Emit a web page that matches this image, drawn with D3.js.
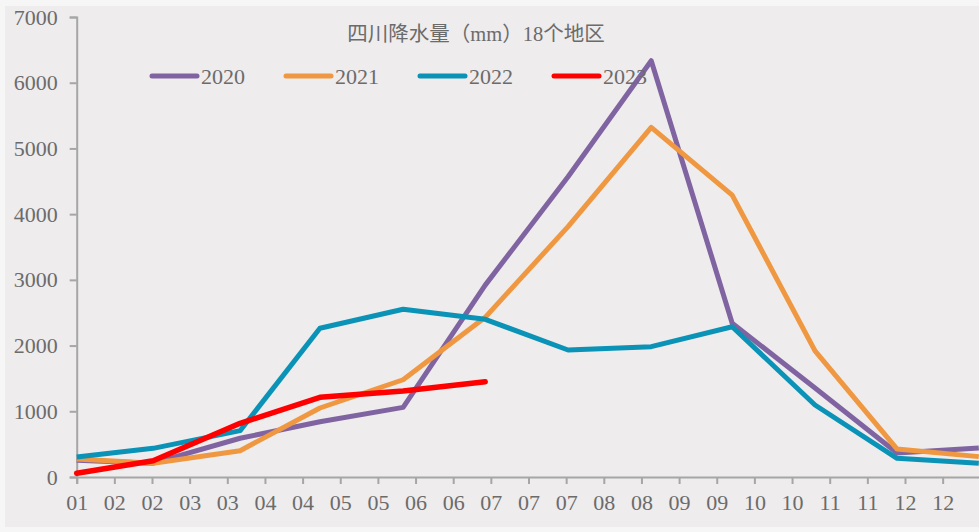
<!DOCTYPE html>
<html>
<head>
<meta charset="utf-8">
<script src="https://cdn.jsdelivr.net/npm/d3@7"></script>
<style>
  body { margin: 0; background: #f6f6f6; }
  svg { display: block; }
  text { font-family: "Liberation Serif", "Noto Sans CJK SC", serif; fill: #6b6b6b; }
</style>
</head>
<body>
<svg id="chart" width="979" height="532"></svg>
<script>
// tick labels along the bottom (one per tick)
const tickLabels = ["01","02","02","03","03","04","04","05","05","06","06","07",
                    "07","07","08","08","09","09","10","10","11","11","12","12"]
// where each monthly point sits, in tick units
const pointPos = [0, 2.03, 4.34, 6.46, 8.67, 10.85, 13.05, 15.26, 17.41, 19.61, 21.79, 23.96]

const years = ["2020", "2021", "2022", "2023"]
const v2020 = [255, 210, 590, 840, 1060, 2920, 4570, 6335, 2340, 1355, 365, 440]
const v2021 = [275, 210, 400, 1050, 1480, 2430, 3810, 5320, 4290, 1920, 425, 310]
const v2022 = [305, 436, 705, 2263, 2552, 2400, 1933, 1983, 2287, 1096, 284, 208]
const v2023 = [56, 248, 817, 1213, 1309, 1450]
const yTicks = [0, 1000, 2000, 3000, 4000, 5000, 6000, 7000]

const colors = d3.scaleOrdinal()
    .domain(years)
    .range(["#8064a2", "#ef9841", "#0a93b7", "#ff0000"])

const svg = d3.select("#chart")

// chart area background
svg.append("rect")
    .attr("x", 5).attr("y", 6)
    .attr("width", 974).attr("height", 521)
    .attr("fill", "#eeeced")

const x = d3.scaleLinear().domain([0, 24]).range([76.7, 980.3])
const y = d3.scaleLinear().domain([0, 7000]).range([477, 17])

// y axis
const yAxis = svg.append("g")
    .attr("transform", "translate(" + x(0) + ",0)")
    .call(d3.axisLeft(y).tickValues(yTicks).tickSize(7).tickPadding(12).tickFormat(d3.format("d")))
yAxis.select(".domain").attr("stroke", "#a6a6a6").attr("stroke-width", 2)
yAxis.selectAll(".tick line").attr("stroke", "#a6a6a6").attr("stroke-width", 2)
yAxis.selectAll("text").attr("font-size", 22).style("fill", "#6b6b6b")

// x axis
const xAxis = svg.append("g")
    .attr("transform", "translate(0," + y(0) + ")")
    .call(d3.axisBottom(x).tickValues(d3.range(25)).tickSize(7).tickPadding(10)
        .tickFormat(i => tickLabels[i] || ""))
xAxis.select(".domain").attr("stroke", "#a6a6a6").attr("stroke-width", 2)
xAxis.selectAll(".tick line").attr("stroke", "#a6a6a6").attr("stroke-width", 2)
xAxis.selectAll("text").attr("font-size", 22).style("fill", "#6b6b6b")

// lines
const series = [v2020, v2021, v2022, v2023]
const line = d3.line()
    .x((d, i) => x(pointPos[i]))
    .y(d => y(d))

series.forEach((vals, k) => {
    svg.append("path")
        .datum(vals)
        .attr("fill", "none")
        .attr("stroke", colors(years[k]))
        .attr("stroke-width", k === 3 ? 5.5 : 5)
        .attr("stroke-linejoin", "round")
        .attr("stroke-linecap", k === 3 ? "round" : "butt")
        .attr("d", line)
})

// title
svg.append("text")
    .attr("x", 476).attr("y", 41)
    .attr("text-anchor", "middle")
    .attr("font-size", 20.5)
    .text("四川降水量（mm）18个地区")

// legend
const legend = svg.append("g")
    .selectAll("g")
    .data(years)
    .join("g")
    .attr("transform", (d, i) => "translate(" + (152 + i * 134) + ",76)")

legend.append("line")
    .attr("x1", 0).attr("x2", 45)
    .attr("stroke", d => colors(d))
    .attr("stroke-width", 5)
    .attr("stroke-linecap", "round")

legend.append("text")
    .attr("x", 49).attr("y", 8)
    .attr("font-size", 22)
    .text(d => d)
</script>
</body>
</html>
